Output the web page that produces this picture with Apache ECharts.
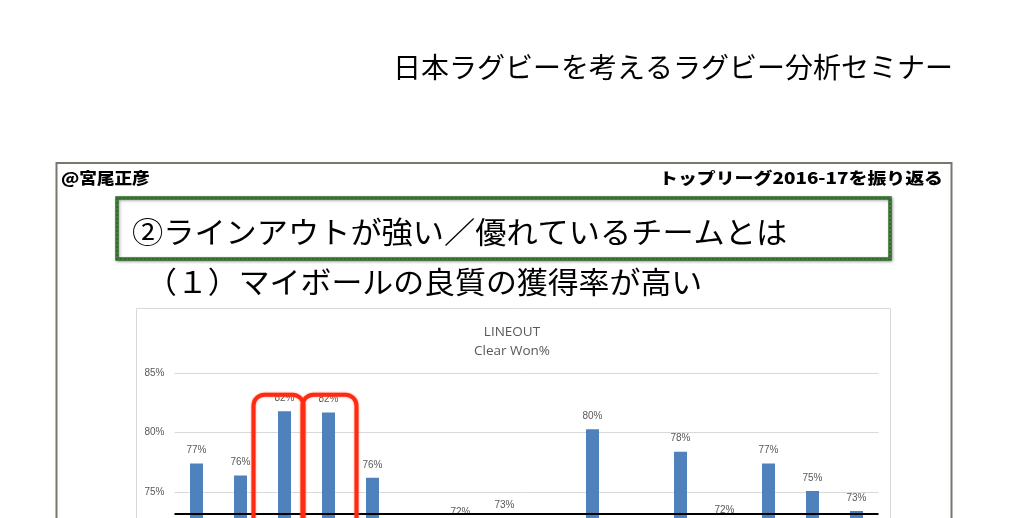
<!DOCTYPE html>
<html><head><meta charset="utf-8">
<script src="https://cdn.jsdelivr.net/npm/echarts@6/dist/echarts.min.js"></script>
<style>html,body{margin:0;padding:0;background:#fff}#c{width:1024px;height:518px}</style>
</head><body><div id="c"></div>
<script>
// ---- data ----
const teams = ['サントリー','パナソニック','ヤマハ発動機','神戸製鋼','トヨタ自動車','東芝','NTTコム','リコー','キヤノン','クボタ','NEC','Honda','豊田自動織機','宗像サニックス','コカ・コーラ','近鉄'];
const clearWonPct = [77.4, 76.4, 81.8, 81.7, 76.2, 70.5, 72.2, 72.8, 70.0, 80.3, 71.0, 78.4, 72.4, 77.4, 75.1, 73.4];
const yMin = 60, yMax = 85, yStep = 5;
const highlighted = [2, 3];
const highlightTop = 83.2;
const baselineValue = 73.2;
const pageTitle = '日本ラグビーを考えるラグビー分析セミナー';
const authorText = '@宮尾正彦';
const headerRight = 'トップリーグ2016-17を振り返る';
const boxText = '②ラインアウトが強い／優れているチームとは';
const subText = '（１）マイボールの良質の獲得率が高い';
const chartTitle = ['LINEOUT', 'Clear Won%'];

const JP = '"Noto Sans CJK JP", sans-serif';
const chart = echarts.init(document.getElementById('c'));

const baseGraphics = [
  { type: 'text', z: 1, style: { x: 393, y: 67, text: pageTitle, font: '28px ' + JP, fill: '#000', textVerticalAlign: 'middle' } },
  { type: 'rect', z: 0, shape: { x: 56.5, y: 163, width: 895, height: 420 }, style: { fill: 'none', stroke: '#7b776f', lineWidth: 2 } },
  { type: 'text', z: 1, x: 61, y: 178, scaleX: 1.1, style: { x: 0, y: 0, text: authorText, font: '900 16px ' + JP, fill: '#000', textVerticalAlign: 'middle' } },
  { type: 'text', z: 1, x: 943, y: 178, scaleX: 1.18, style: { x: 0, y: 0, text: headerRight, font: '900 16px ' + JP, fill: '#000', textAlign: 'right', textVerticalAlign: 'middle' } },
  { type: 'rect', z: 1, shape: { x: 117, y: 198, width: 773, height: 61 }, style: { fill: '#fff', stroke: '#2f6b29', lineWidth: 3.5, shadowBlur: 3, shadowOffsetX: 1, shadowOffsetY: 1, shadowColor: 'rgba(0,0,0,0.35)' } },
  { type: 'rect', z: 2, shape: { x: 117, y: 198, width: 773, height: 61 }, style: { fill: 'none', stroke: '#4f8a45', lineWidth: 1.2, lineDash: [2, 2] } },
  { type: 'text', z: 3, x: 132, y: 232, scaleX: 1.04, style: { x: 0, y: 0, text: boxText, font: '30px ' + JP, fill: '#000', textVerticalAlign: 'middle' } },
  { type: 'text', z: 3, x: 146, y: 282, scaleX: 1.03, style: { x: 0, y: 0, text: subText, font: '30px ' + JP, fill: '#000', textVerticalAlign: 'middle' } },
  { type: 'rect', z: 0, shape: { x: 136.5, y: 308.5, width: 754, height: 300 }, style: { fill: 'none', stroke: '#d9d9d9', lineWidth: 1 } }
];

chart.setOption({
  animation: false,
  backgroundColor: '#fff',
  title: {
    text: chartTitle.join('\n'), left: 'center', top: 318,
    textStyle: { fontFamily: '"Open Sans", sans-serif', fontSize: 13.5, fontWeight: 'normal', color: '#595959', lineHeight: 19 }
  },
  grid: { left: 174.5, top: 373.3, width: 704, height: (yMax - yMin) * 11.88, containLabel: false, outerBoundsMode: 'none' },
  xAxis: {
    type: 'category', data: teams,
    axisLine: { show: false }, axisTick: { show: false }, axisLabel: { show: false }
  },
  yAxis: {
    type: 'value', min: yMin, max: yMax, interval: yStep,
    axisLine: { show: false }, axisTick: { show: false },
    axisLabel: { formatter: '{value}%', color: '#595959', fontSize: 10, fontFamily: '"Liberation Sans", Arial, sans-serif', margin: 10 },
    splitLine: { lineStyle: { color: '#d9d9d9', width: 1 } }
  },
  series: [{
    type: 'bar', data: clearWonPct, barWidth: 13,
    itemStyle: { color: '#4f81bd' },
    label: {
      show: true, position: 'top', distance: 8,
      formatter: p => Math.round(p.value) + '%',
      color: '#595959', fontSize: 10, fontFamily: '"Liberation Sans", Arial, sans-serif'
    },
    markLine: {
      silent: true, symbol: 'none', z: 10,
      label: { show: false },
      lineStyle: { color: '#000', width: 2, type: 'solid' },
      data: [{ yAxis: baselineValue }]
    }
  }],
  graphic: { elements: baseGraphics }
});

const rectOffsets = [[-31, 50], [-26, 54]];
const redRects = highlighted.map((i, k) => {
  const p = chart.convertToPixel({ xAxisIndex: 0, yAxisIndex: 0 }, [i, highlightTop]);
  return { type: 'rect', z: 100, shape: { x: p[0] + rectOffsets[k][0], y: p[1], width: rectOffsets[k][1], height: 200, r: 11 },
    style: { fill: 'none', stroke: '#ff2a12', lineWidth: 4, shadowBlur: 2, shadowColor: 'rgba(255,60,30,0.7)' } };
});
chart.setOption({ graphic: { elements: baseGraphics.concat(redRects) } });
</script></body></html>
